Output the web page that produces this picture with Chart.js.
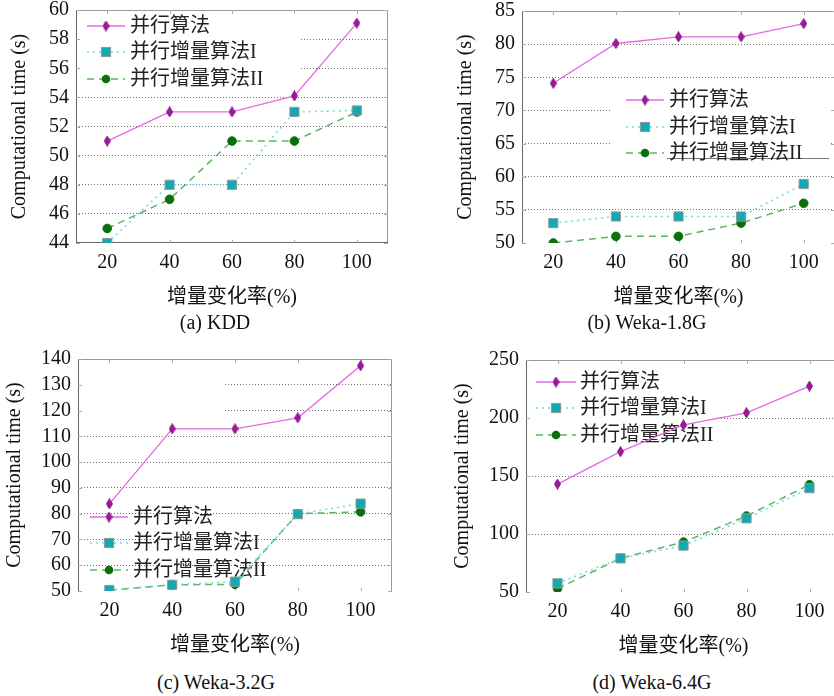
<!DOCTYPE html>
<html lang="zh">
<head>
<meta charset="UTF-8">
<title>Computational time - 增量变化率</title>
<script src="https://cdn.jsdelivr.net/npm/chart.js"></script>
<style>
  html, body { margin: 0; padding: 0; background: #fff; }
  body {
    width: 834px; height: 696px; overflow: hidden; position: relative;
    font-family: "Liberation Serif", "Noto Sans CJK SC", serif;
  }
  canvas { position: absolute; }
  .caption {
    position: absolute; font-size: 20px; line-height: 24px; color: #111;
    transform: translateX(-50%); white-space: nowrap;
  }
</style>
</head>
<body>
<canvas id="cA"></canvas>
<canvas id="cB"></canvas>
<canvas id="cC"></canvas>
<canvas id="cD"></canvas>

<div class="caption" style="left:215px; top:310px">(a) KDD</div>
<div class="caption" style="left:647px; top:310px">(b) Weka-1.8G</div>
<div class="caption" style="left:216px; top:670px">(c) Weka-3.2G</div>
<div class="caption" style="left:652px; top:670px">(d) Weka-6.4G</div>

<script>
// data
const rates = ['20', '40', '60', '80', '100'];
const seriesNames = ['并行算法', '并行增量算法I', '并行增量算法II'];

const kddParallel = [51, 53, 53, 54.1, 59.1];
const kddIncI     = [44, 48, 48, 53, 53.1];
const kddIncII    = [45, 47, 51, 51, 53];
const kddTicks    = [44, 46, 48, 50, 52, 54, 56, 58, 60];

const w18Parallel = [74.1, 80.1, 81.1, 81.1, 83.1];
const w18IncI     = [53, 54, 54, 54, 58.9];
const w18IncII    = [50, 51, 51, 53, 56];
const w18Ticks    = [50, 55, 60, 65, 70, 75, 80, 85];

const w32Parallel = [83.8, 112.9, 112.9, 117.2, 137.4];
const w32IncI     = [50.4, 52.4, 53.6, 79.8, 83.9];
const w32IncII    = [50.3, 52.4, 52.6, 80, 80.7];
const w32Ticks    = [50, 60, 70, 80, 90, 100, 110, 120, 130, 140];

const w64Parallel = [143, 171, 194, 204.5, 227.5];
const w64IncI     = [57.5, 79, 90, 113.5, 139.5];
const w64IncII    = [53, 79, 93, 115.5, 142.5];
const w64Ticks    = [50, 100, 150, 200, 250];

const FONT = '"Liberation Serif", "Noto Sans CJK SC", serif';
const PAD_R = 10, X_AXIS_H = 70;

// thin purple diamond marker
function makeDiamond() {
  const c = document.createElement('canvas');
  c.width = 7; c.height = 11;
  const g = c.getContext('2d');
  g.beginPath();
  g.moveTo(3.5, 0.5); g.lineTo(6.5, 5.5); g.lineTo(3.5, 10.5); g.lineTo(0.5, 5.5);
  g.closePath();
  g.fillStyle = '#a0169f'; g.fill();
  g.strokeStyle = '#80107f'; g.lineWidth = 1; g.stroke();
  return c;
}
const diamond = makeDiamond();

const styles = [
  { borderColor: '#e36ae3', borderWidth: 1.3, borderDash: [],
    pointStyle: diamond, pointRadius: 5, pointBackgroundColor: '#a0169f', pointBorderColor: '#80107f' },
  { borderColor: '#6fdde6', borderWidth: 1.6, borderDash: [2, 4],
    pointStyle: 'rect', pointRadius: 6.5, pointBackgroundColor: '#14a8b2', pointBorderColor: '#8c9c9c', pointBorderWidth: 1 },
  { borderColor: '#5db75d', borderWidth: 1.5, borderDash: [7, 5],
    pointStyle: 'circle', pointRadius: 4.3, pointBackgroundColor: '#0b6f0b', pointBorderColor: '#0b6f0b', pointBorderWidth: 1 }
];

function drawMarker(ctx, st, x, y) {
  ctx.save();
  ctx.setLineDash([]);
  if (st.pointStyle instanceof HTMLCanvasElement) {
    ctx.drawImage(st.pointStyle, x - st.pointStyle.width / 2, y - st.pointStyle.height / 2);
  } else if (st.pointStyle === 'rect') {
    const s = st.pointRadius * Math.SQRT1_2;
    ctx.fillStyle = st.pointBackgroundColor;
    ctx.strokeStyle = st.pointBorderColor;
    ctx.lineWidth = 1;
    ctx.fillRect(x - s, y - s, 2 * s, 2 * s);
    ctx.strokeRect(x - s, y - s, 2 * s, 2 * s);
  } else {
    ctx.beginPath();
    ctx.arc(x, y, st.pointRadius, 0, Math.PI * 2);
    ctx.fillStyle = st.pointBackgroundColor;
    ctx.fill();
  }
  ctx.restore();
}

// frame, inner ticks, white legend patches and the in-plot legend
const decor = {
  id: 'decor',
  beforeDatasetsDraw(chart, args, o) {
    const ctx = chart.ctx, a = chart.chartArea;
    const xs = chart.scales.x, ys = chart.scales.y;
    ctx.save();
    ctx.fillStyle = '#fff';
    (o.boxes || []).forEach(b => ctx.fillRect(a.left + b[0], a.top + b[1], b[2], b[3]));

    ctx.lineWidth = 1;
    ctx.strokeStyle = '#999';
    ctx.beginPath();
    ctx.moveTo(a.left, a.top + 0.5); ctx.lineTo(a.right, a.top + 0.5);
    ctx.moveTo(a.right - 0.5, a.top); ctx.lineTo(a.right - 0.5, a.bottom);
    ctx.stroke();
    ctx.strokeStyle = '#666';
    ctx.beginPath();
    ctx.moveTo(a.left + 0.5, a.top); ctx.lineTo(a.left + 0.5, a.bottom);
    if (o.bottomLine) { ctx.moveTo(a.left, a.bottom - 0.5); ctx.lineTo(a.right, a.bottom - 0.5); }
    ctx.stroke();

    ctx.strokeStyle = '#aaa';
    ctx.beginPath();
    xs.ticks.forEach((t, i) => {
      const px = Math.round(xs.getPixelForTick(i)) + 0.5;
      ctx.moveTo(px, a.top); ctx.lineTo(px, a.top + 4);
      ctx.moveTo(px, a.bottom); ctx.lineTo(px, a.bottom - 3);
    });
    ys.ticks.forEach(t => {
      const py = Math.round(ys.getPixelForValue(t.value)) + 0.5;
      ctx.moveTo(a.left, py); ctx.lineTo(a.left + 4, py);
      ctx.moveTo(a.right, py); ctx.lineTo(a.right - 4, py);
    });
    ctx.stroke();

    if (o.rule) {
      ctx.strokeStyle = '#777';
      ctx.beginPath();
      ctx.moveTo(a.left + o.rule[0], a.top + o.rule[2] + 0.5);
      ctx.lineTo(a.left + o.rule[1], a.top + o.rule[2] + 0.5);
      ctx.stroke();
    }

    const L = o.legend;
    chart.data.datasets.forEach((ds, i) => {
      const st = styles[i];
      const y = a.top + L.rows[i];
      ctx.save();
      ctx.strokeStyle = st.borderColor;
      ctx.lineWidth = st.borderWidth;
      ctx.setLineDash(st.borderDash);
      ctx.beginPath();
      ctx.moveTo(a.left + L.x0, y); ctx.lineTo(a.left + L.x1, y);
      ctx.stroke();
      ctx.restore();
      drawMarker(ctx, st, a.left + (L.x0 + L.x1) / 2, y);
      ctx.font = '20px ' + FONT;
      ctx.fillStyle = '#222';
      ctx.textBaseline = 'middle';
      ctx.textAlign = 'left';
      ctx.fillText(ds.label, a.left + L.tx, y + 1);
    });
    ctx.restore();
  }
};

function buildConfig(series, ticks, yW, decorOpts) {
  const lo = ticks[0], hi = ticks[ticks.length - 1];
  return {
    type: 'line',
    data: {
      labels: rates,
      datasets: series.map((vals, i) => Object.assign({
        label: seriesNames[i], data: vals, fill: false, tension: 0
      }, styles[i]))
    },
    options: {
      responsive: false,
      maintainAspectRatio: false,
      animation: false,
      events: [],
      layout: { padding: { top: 0, right: PAD_R, left: 0, bottom: 0 } },
      plugins: { legend: { display: false }, tooltip: { enabled: false }, decor: decorOpts },
      scales: {
        x: {
          type: 'category', offset: true,
          grid: { display: false, drawTicks: false },
          border: { display: false },
          ticks: { color: '#111', font: { family: FONT, size: 20 }, padding: 8 },
          title: { display: true, text: '增量变化率(%)', color: '#111',
                   font: { family: FONT, size: 20 }, padding: { top: 0, bottom: 3 } },
          afterFit: s => { s.height = X_AXIS_H; }
        },
        y: {
          min: lo, max: hi,
          afterBuildTicks: s => { s.ticks = ticks.map(v => ({ value: v })); },
          grid: {
            drawTicks: false, lineWidth: 1,
            color: c => (c.tick && c.tick.value === lo) ? 'rgba(0,0,0,0)' : '#6e6e6e'
          },
          border: { display: false, dash: [1, 2] },
          ticks: { color: '#111', font: { family: FONT, size: 20 }, padding: 7, autoSkip: false },
          title: { display: true, text: 'Computational time (s)', color: '#111',
                   font: { family: FONT, size: 20 }, padding: { top: 2, bottom: 0 } },
          afterFit: s => { s.width = yW; }
        }
      }
    },
    plugins: [decor]
  };
}

// area = where the plot frame sits on the page
function makeChart(id, series, ticks, area, yW, decorOpts) {
  const cv = document.getElementById(id);
  const w = yW + (area.r - area.l) + PAD_R;
  let h = (area.b - area.t) + X_AXIS_H;
  cv.width = w; cv.height = h;
  let chart = new Chart(cv, buildConfig(series, ticks, yW, decorOpts));
  // Chart.js keeps some room above the frame for the top tick label: add it and rebuild
  const got = chart.chartArea;
  const dh = (area.b - area.t) - (got.bottom - got.top);
  if (dh) {
    chart.destroy();
    h += dh;
    cv.width = w; cv.height = h;
    cv.style.width = w + 'px'; cv.style.height = h + 'px';
    chart = new Chart(cv, buildConfig(series, ticks, yW, decorOpts));
  }
  const a2 = chart.chartArea;
  cv.style.left = (area.l - a2.left) + 'px';
  cv.style.top = (area.t - a2.top) + 'px';
  return chart;
}

makeChart('cA', [kddParallel, kddIncI, kddIncII], kddTicks,
  { l: 76, t: 10, r: 388, b: 243 }, 70, {
  bottomLine: true,
  boxes: [[0, 0, 224, 80]],
  legend: { x0: 11, x1: 49, tx: 54, rows: [16, 42, 69] }
});
makeChart('cB', [w18Parallel, w18IncI, w18IncII], w18Ticks,
  { l: 522, t: 11, r: 835, b: 243 }, 70, {
  boxes: [[89, 74, 220, 73]],
  rule: [145, 307, 147],
  legend: { x0: 104, x1: 142, tx: 147, rows: [89, 116, 142] }
});
makeChart('cC', [w32Parallel, w32IncI, w32IncII], w32Ticks,
  { l: 78, t: 359, r: 392, b: 591 }, 77, {
  boxes: [[0, 12, 145, 48]],
  legend: { x0: 12, x1: 50, tx: 55, rows: [158, 184, 211] }
});
makeChart('cD', [w64Parallel, w64IncI, w64IncII], w64Ticks,
  { l: 526, t: 360, r: 841, b: 592 }, 77, {
  boxes: [[0, 0, 188, 70]],
  legend: { x0: 10, x1: 50, tx: 54, rows: [22, 48, 75] }
});
</script>
</body>
</html>
